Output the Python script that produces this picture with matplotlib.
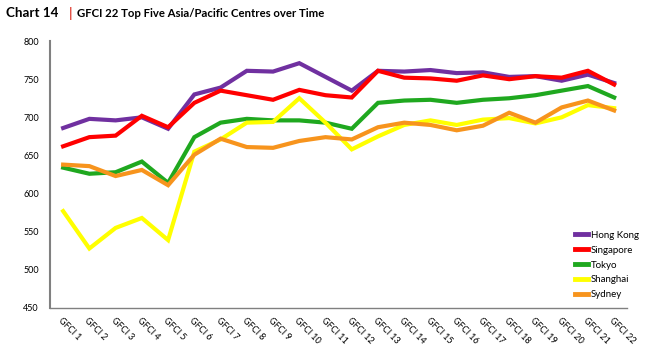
import matplotlib
matplotlib.use("Agg")
import matplotlib.pyplot as plt

labels = [f"GFCI {i}" for i in range(1, 23)]
hong_kong = [686, 698, 696, 700, 685, 730, 739, 761, 760, 771, 753, 735,
             761, 760, 762, 758, 759, 753, 754, 748, 756, 745]
singapore = [662, 674, 676, 702, 687, 719, 735, 729, 723, 736, 729, 726,
             761, 752, 751, 748, 755, 750, 754, 752, 761, 743]
tokyo = [634, 626, 628, 642, 614, 674, 693, 698, 696, 696, 693, 685,
         719, 722, 723, 719, 723, 725, 729, 735, 741, 726]
shanghai = [577, 528, 555, 568, 539, 655, 671, 693, 694, 725, 693, 658,
            675, 690, 696, 690, 697, 699, 692, 700, 716, 712]
sydney = [638, 636, 623, 631, 611, 651, 672, 661, 660, 669, 674, 671,
          687, 693, 690, 683, 689, 706, 693, 713, 722, 709]

series = [("Hong Kong", hong_kong, "#7030A0"),
          ("Singapore", singapore, "#FF0000"),
          ("Tokyo", tokyo, "#1FA81F"),
          ("Shanghai", shanghai, "#FFFF00"),
          ("Sydney", sydney, "#F7941D")]

plt.rcParams["font.family"] = ["Lato", "DejaVu Sans"]
fig = plt.figure(figsize=(6.53, 3.54), dpi=100)
ax = fig.add_axes([0.0766, 0.130, 0.884, 0.754])

x = range(len(labels))
for name, vals, c in series:
    ax.plot(x, vals, color=c, lw=3, label=name, solid_joinstyle="miter")

ax.set_xlim(-0.5, 21.5)
ax.set_ylim(450, 800)
ax.set_yticks(range(450, 801, 50))
ax.tick_params(axis="y", length=0, labelsize=6.5, pad=8)
ax.set_xticks(list(x))
ax.set_xticklabels(labels, rotation=-45, ha="left", rotation_mode="anchor", fontsize=6.5)
ax.tick_params(axis="x", length=0, pad=6)
for s in ("top", "right"):
    ax.spines[s].set_visible(False)
ax.spines["left"].set_color("#808080")
ax.spines["left"].set_linewidth(1.5)
ax.spines["bottom"].set_color("#808080")
ax.spines["bottom"].set_linewidth(1)

leg = ax.legend(loc="lower right", bbox_to_anchor=(1.035, 0.0), frameon=False, fontsize=7,
                handlelength=1.3, handletextpad=0.3, labelspacing=0.6)
for h in leg.get_lines():
    h.set_linewidth(3.5)

fig.text(0.009, 0.963, "Chart 14", fontsize=9.6, fontweight="bold", va="center")
fig.text(0.105, 0.963, "|", fontsize=9.6, fontweight="bold", color="#E03C31", va="center")
fig.text(0.118, 0.963, "GFCI 22 Top Five Asia/Pacific Centres over Time",
         fontsize=8.2, fontweight="bold", va="center")

fig.savefig("out.png", dpi=100)
